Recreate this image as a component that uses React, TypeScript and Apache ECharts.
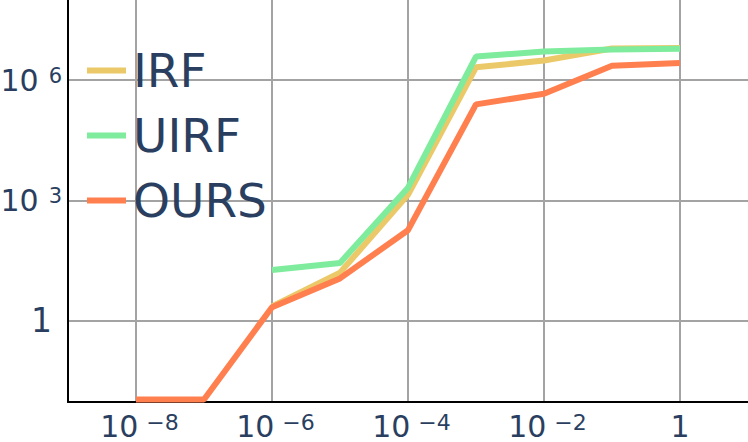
import React, { useEffect, useRef } from "react";
import * as echarts from "echarts";

// x values (noise level) at each decade
const xValues = [1e-8, 1e-7, 1e-6, 1e-5, 1e-4, 1e-3, 1e-2, 1e-1, 1];
// series values (null = no point)
const irfValues = [null, null, 2.3, 16, 1.4e3, 2.1e6, 3.1e6, 6.2e6, 6.4e6];
const uirfValues = [null, null, 18.6, 28, 2.1e3, 3.9e6, 5.2e6, 5.8e6, 6.1e6];
const oursValues = [0.011, 0.011, 2.2, 11.5, 183, 2.5e5, 4.6e5, 2.3e6, 2.7e6];
// tick positions in decades (exponents)
const xTickExps = [-8, -6, -4, -2, 0];
const yTickExps = [0, 3, 6];
const seriesNames = ["IRF", "UIRF", "OURS"];
const seriesColors = ["#ecc968", "#7eec9c", "#ff7f4f"];

const FONT = "DejaVu Sans";
const TEXT = "#2a3f5f";

function toPairs(vals: (number | null)[]) {
  const out: [number, number][] = [];
  vals.forEach((v, i) => {
    if (v != null) out.push([Math.log10(xValues[i]), Math.log10(v)]);
  });
  return out;
}

export default function App() {
  const ref = useRef<HTMLDivElement>(null);
  useEffect(() => {
    if (!ref.current) return;
    const chart = echarts.init(ref.current, undefined, { renderer: "svg" });
    const allVals = [irfValues, uirfValues, oursValues];
    chart.setOption({
      animation: false,
      textStyle: { fontFamily: FONT },
      grid: { left: 68, right: 0, top: 0, bottom: 40, containLabel: false, outerBoundsMode: "none" },
      legend: {
        show: true,
        orient: "vertical",
        left: 87,
        top: 47,
        padding: 0,
        itemGap: 18,
        itemWidth: 39,
        itemHeight: 6,
        icon: "rect",
        data: seriesNames,
        textStyle: { fontFamily: FONT, fontSize: 47, color: TEXT, lineHeight: 47, padding: [0, 0, 0, 2] },
      },
      xAxis: {
        type: "value",
        min: -9,
        max: 1,
        axisLine: { show: true, onZero: false, lineStyle: { color: "#000", width: 2 } },
        axisTick: { show: false, customValues: xTickExps },
        splitLine: { show: true, lineStyle: { color: "#a3a3a3", width: 2 } },
        axisLabel: {
          customValues: xTickExps,
          margin: 9,
          color: TEXT,
          fontFamily: FONT,
          formatter: (v: number) =>
            Math.round(v) === 0
              ? "{one|1}"
              : "{b|10}{s|\u2212" + Math.abs(Math.round(v)) + "}",
          rich: {
            one: { fontSize: 30, lineHeight: 30, color: TEXT, fontFamily: FONT },
            b: { fontSize: 30, lineHeight: 30, verticalAlign: "bottom", padding: [0, 0, 0, 7], color: TEXT, fontFamily: FONT },
            s: { fontSize: 22, lineHeight: 22, verticalAlign: "top", padding: [0, 0, 15, 8], color: TEXT, fontFamily: FONT },
          },
        },
      },
      yAxis: {
        type: "value",
        min: -2.02,
        max: 8,
        axisLine: { show: true, onZero: false, lineStyle: { color: "#000", width: 2 } },
        axisTick: { show: false, customValues: yTickExps },
        splitLine: { show: true, lineStyle: { color: "#a3a3a3", width: 2 } },
        axisLabel: {
          customValues: yTickExps,
          margin: 6,
          color: TEXT,
          fontFamily: FONT,
          formatter: (v: number) =>
            Math.round(v) === 0 ? "{one|1}" : "{b|10}{s|" + Math.round(v) + "}",
          rich: {
            one: { fontSize: 33, lineHeight: 33, padding: [0, 10, 0, 0], color: TEXT, fontFamily: FONT },
            b: { fontSize: 30, lineHeight: 30, verticalAlign: "bottom", color: TEXT, fontFamily: FONT },
            s: { fontSize: 21, lineHeight: 21, verticalAlign: "top", padding: [0, 0, 18, 10], color: TEXT, fontFamily: FONT },
          },
        },
      },
      series: seriesNames.map((name, i) => ({
        name,
        type: "line",
        data: toPairs(allVals[i]),
        showSymbol: false,
        symbol: "none",
        color: seriesColors[i],
        lineStyle: { color: seriesColors[i], width: 6 },
        z: 2 + i,
      })),
    });
    return () => chart.dispose();
  }, []);
  return (
    <div
      ref={ref}
      style={{ position: "fixed", left: 0, top: 0, width: 748, height: 442, background: "#fff" }}
    />
  );
}
